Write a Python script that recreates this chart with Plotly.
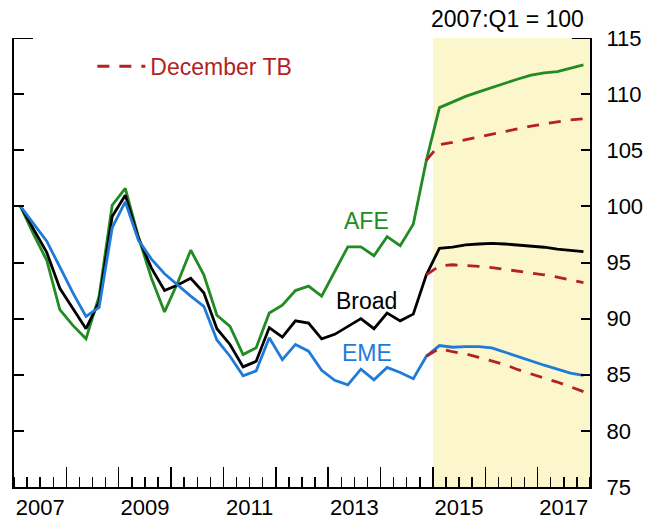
import plotly.graph_objects as go

# ---- data (2007:Q1 = 100) ----
quarters = [f"{y}:Q{q}" for y in range(2007, 2018) for q in range(1, 5)]

afe = [100.0, 97.5, 95.2, 90.8, 89.4, 88.2, 92.0, 100.1, 101.6, 97.3,
       93.6, 90.6, 93.2, 96.1, 93.9, 90.3, 89.3, 86.8, 87.4, 90.5,
       91.2, 92.5, 92.9, 92.0, 94.2, 96.4, 96.4, 95.6, 97.3, 96.5,
       98.4, 104.1, 108.8, 109.3, 109.8, 110.2, 110.6, 111.0, 111.35, 111.7,
       111.9, 112.0, 112.3, 112.6]

broad = [100.0, 98.0, 95.9, 92.7, 90.9, 89.1, 91.5, 99.1, 101.0, 97.2,
         94.5, 92.5, 93.0, 93.6, 92.3, 89.1, 87.7, 85.7, 86.2, 89.2,
         88.35, 89.8, 89.6, 88.2, 88.6, 89.3, 90.0, 89.1, 90.5, 89.8,
         90.4, 93.9, 96.27, 96.36, 96.57, 96.65, 96.7, 96.65, 96.57, 96.5,
         96.36, 96.2, 96.06, 95.97]

eme = [100.0, 98.4, 96.9, 94.6, 92.3, 90.2, 91.0, 98.1, 100.4, 97.0,
       95.3, 94.0, 93.0, 92.0, 91.1, 88.1, 86.65, 84.9, 85.35, 88.3,
       86.35, 87.7, 87.1, 85.4, 84.5, 84.1, 85.5, 84.55, 85.65, 85.2,
       84.65, 86.65, 87.6, 87.45, 87.5, 87.5, 87.4, 87.0, 86.6, 86.2,
       85.85, 85.5, 85.15, 84.95]

tb_quarters = quarters[31:]
tb_afe = [104.1, 105.5, 105.7, 105.95, 106.2, 106.45, 106.7, 106.95, 107.15,
          107.35, 107.55, 107.7, 107.8]
tb_broad = [93.9, 94.7, 94.8, 94.75, 94.65, 94.55, 94.4, 94.25, 94.1,
            93.9, 93.7, 93.45, 93.2]
tb_eme = [86.65, 87.35, 87.05, 86.85, 86.55, 86.25, 85.9, 85.45, 85.05,
          84.7, 84.35, 83.95, 83.5]

year_labels = ["2007", "2009", "2011", "2013", "2015", "2017"]
y_ticks = [75, 80, 85, 90, 95, 100, 105, 110, 115]
forecast_from = 2015
first_year, last_year = 2007, 2018

# ---- helpers ----
def qpos(label):
    y, q = label.split(":Q")
    return int(y) + (int(q) - 0.5) / 4.0

x_all = [qpos(q) for q in quarters]
x_tb = [qpos(q) for q in tb_quarters]

GREEN = "#228B22"
BLACK = "#000000"
BLUE = "#1F7BD6"
RED = "#B22222"
SHADE = "#FCF6CD"
FONT = "Liberation Sans, Arial, sans-serif"

fig = go.Figure()

# forecast-period shading (base subplot x / y)
fig.add_trace(go.Scatter(
    x=[forecast_from, last_year, last_year, forecast_from, forecast_from],
    y=[y_ticks[0], y_ticks[0], y_ticks[-1], y_ticks[-1], y_ticks[0]],
    mode="lines", fill="toself", fillcolor=SHADE, line=dict(width=0),
    hoverinfo="skip", showlegend=False, xaxis="x", yaxis="y"))

# series (overlay subplot x2 / y2, same scales)
fig.add_trace(go.Scatter(x=x_all, y=afe, mode="lines", name="AFE",
                         line=dict(color=GREEN, width=2.8), showlegend=False,
                         xaxis="x2", yaxis="y2"))
fig.add_trace(go.Scatter(x=x_all, y=broad, mode="lines", name="Broad",
                         line=dict(color=BLACK, width=2.8), showlegend=False,
                         xaxis="x2", yaxis="y2"))
fig.add_trace(go.Scatter(x=x_all, y=eme, mode="lines", name="EME",
                         line=dict(color=BLUE, width=2.8), showlegend=False,
                         xaxis="x2", yaxis="y2"))

for i, vals in enumerate([tb_afe, tb_broad, tb_eme]):
    fig.add_trace(go.Scatter(x=x_tb, y=vals, mode="lines",
                             name="December TB", legendgroup="tb",
                             showlegend=(i == 0),
                             line=dict(color=RED, width=2.8, dash="12px,10px"),
                             xaxis="x2", yaxis="y2"))

# longer top ticks at 115
fig.add_shape(type="line", xref="x domain", yref="y", x0=0, x1=19 / 576,
              y0=y_ticks[-1], y1=y_ticks[-1], line=dict(color="black", width=2))
fig.add_shape(type="line", xref="x domain", yref="y", x0=1 - 18 / 576, x1=1,
              y0=y_ticks[-1], y1=y_ticks[-1], line=dict(color="black", width=2))

# series labels
for txt, col, yv in [("AFE", GREEN, 98.66), ("Broad", BLACK, 91.6), ("EME", BLUE, 86.9)]:
    fig.add_annotation(x=2013.74, y=yv, xref="x2", yref="y2", text=txt,
                       showarrow=False, font=dict(family=FONT, size=23, color=col))

fig.add_annotation(x=1, y=1, xref="paper", yref="paper", text="2007:Q1 = 100",
                   showarrow=False, xanchor="right", yanchor="middle",
                   xshift=-4, yshift=19,
                   font=dict(family=FONT, size=23, color="black"))

fig.update_layout(
    width=660, height=520,
    margin=dict(l=14, r=70, t=38, b=33, autoexpand=False),
    paper_bgcolor="white", plot_bgcolor="white",
    font=dict(family=FONT, size=22, color="black"),
    legend=dict(x=0.136, y=0.937, xanchor="left", yanchor="middle",
                itemwidth=48,
                bgcolor="rgba(0,0,0,0)", font=dict(color=RED, size=23)),
    xaxis=dict(range=[first_year, last_year], showgrid=False, zeroline=False,
               showline=True, linecolor="black", linewidth=2,
               tickmode="array", tickvals=[int(y) + 0.5 for y in year_labels],
               ticktext=year_labels, ticks="",
               minor=dict(ticks="inside", tick0=first_year, dtick=0.25,
                          ticklen=10, tickwidth=1.5, tickcolor="black",
                          showgrid=False),
               fixedrange=True),
    xaxis2=dict(range=[first_year, last_year], overlaying="x", anchor="y2",
                side="bottom", showgrid=False, zeroline=False, showline=False,
                tickmode="array", tickvals=list(range(first_year + 1, last_year)),
                ticks="inside", ticklen=20, tickwidth=1.5, tickcolor="black",
                showticklabels=False, fixedrange=True),
    yaxis=dict(range=[y_ticks[0], y_ticks[-1]], showgrid=False, zeroline=False,
               showline=True, linecolor="black", linewidth=2,
               tickmode="array", tickvals=y_ticks, ticks="inside", ticklen=10,
               tickwidth=2, tickcolor="black", showticklabels=False,
               fixedrange=True),
    yaxis2=dict(range=[y_ticks[0], y_ticks[-1]], overlaying="y", anchor="x2",
                side="right", showgrid=False, zeroline=False,
                showline=True, linecolor="black", linewidth=2,
                tickmode="array", tickvals=y_ticks, ticks="inside", ticklen=9,
                tickwidth=2, tickcolor="black", ticklabelstandoff=10,
                fixedrange=True),
)

fig.write_html(
    "out.html",
    config={"displayModeBar": False, "staticPlot": True},
    post_script="document.body.style.margin='0px';document.body.style.overflow='hidden';",
)
